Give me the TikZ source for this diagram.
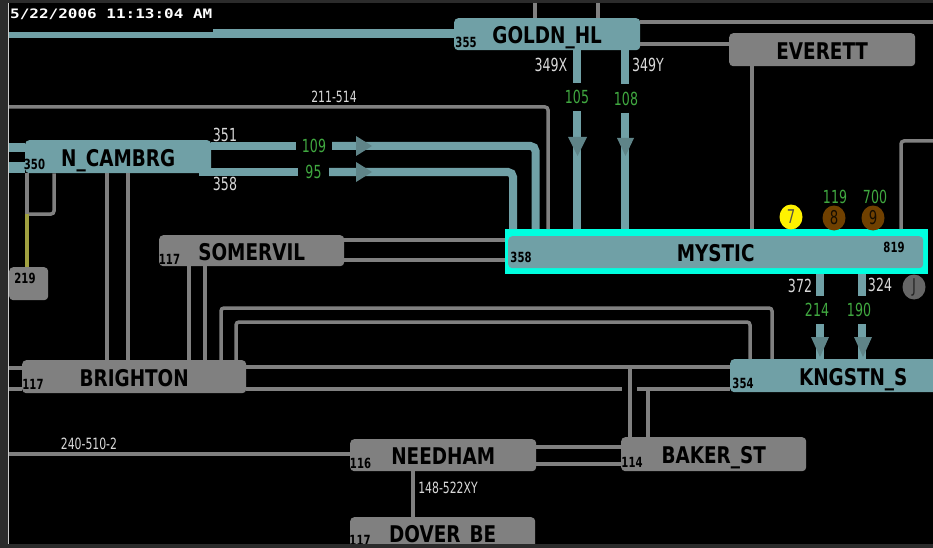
\documentclass[tikz,border=0pt]{standalone}
\usepackage{fontspec}
\newfontfamily\boxfont[FakeStretch=0.8]{DejaVu Sans Bold}
\newfontfamily\numfont[FakeStretch=0.72]{DejaVu Sans Bold}
\newfontfamily\smallfont[FakeStretch=0.7]{DejaVu Sans}
\newfontfamily\stampfont[FakeStretch=1.23]{DejaVu Sans Mono Bold}
\definecolor{tealbus}{HTML}{70A0A6}
\definecolor{graybus}{HTML}{808080}
\definecolor{arrowteal}{HTML}{5F8488}
\definecolor{flowgreen}{HTML}{40A840}
\definecolor{cyanframe}{HTML}{00FFE0}
\definecolor{brownball}{HTML}{704000}
\definecolor{edgedark}{HTML}{2B2B2B}
\definecolor{olivetap}{HTML}{A0A040}
\tikzset{
  bus/.style={rectangle,rounded corners=4pt,anchor=north west,inner sep=0pt,text=black,
    text height=19pt,text depth=0pt,font=\boxfont\fontsize{23}{25}\selectfont},
  tealnode/.style={bus,fill=tealbus},
  graynode/.style={bus,fill=graybus},
  num/.style={inner sep=0pt,text=black,font=\numfont\fontsize{14}{15}\selectfont},
  lab/.style={inner sep=0pt,text=white!85!black,font=\smallfont\fontsize{18}{20}\selectfont},
  tinylab/.style={inner sep=0pt,text=white!85!black,font=\smallfont\fontsize{15.5}{17}\selectfont},
  flow/.style={inner sep=0pt,minimum height=28pt,minimum width=30pt,text=flowgreen,font=\smallfont\fontsize{18}{20}\selectfont},
  ball/.style={ellipse,minimum width=23pt,minimum height=25pt,inner sep=0pt,text=black,font=\smallfont\fontsize{19}{20}\selectfont},
  gline/.style={draw=graybus,line width=3.5pt,rounded corners=3pt},
  tline/.style={draw=tealbus,line width=8pt,rounded corners=5pt},
  head/.style={fill=arrowteal},
}
\usetikzlibrary{shapes.geometric}
\begin{document}
\begin{tikzpicture}[x=1pt,y=-1pt]
\useasboundingbox (0,0) rectangle (933,548);
\clip (0,0) rectangle (933,548);
\fill[black] (0,0) rectangle (933,548);
\foreach \v in {9,22,27,29,33,35,54,107,128,140,141,146,172,189,205,213,214,221,236,240,260,308,322,367,389,368,447,454,464,535,549,513,577,598,625,630,648,640,3,44,750,752,772,820,862,901,933}{
  \coordinate (x\v) at (\v,0);
  \coordinate (y\v) at (0,\v);
}
% bus nodes
\node[tealnode,minimum width=186pt,minimum height=32pt] (goldn) at (454,18) {GOLDN\_HL};
\node[graynode,minimum width=186pt,minimum height=33pt] (everett) at (729,33) {EVERETT};
\node[tealnode,minimum width=186pt,minimum height=33pt] (ncambrg) at (25,140) {N\_CAMBRG};
\node[graynode,minimum width=185pt,minimum height=31pt] (somervil) at (159,235) {SOMERVIL};
\node[rectangle,fill=cyanframe,anchor=north west,inner sep=0pt,minimum width=423pt,minimum height=45pt] (mysticframe) at (505,229) {};
\node[tealnode,minimum width=415pt,minimum height=32pt] (mystic) at (508,236) {MYSTIC};
\node[graynode,minimum width=39pt,minimum height=33pt] (b219) at (9,267) {};
\node[graynode,minimum width=224pt,minimum height=33pt] (brighton) at (22,360) {BRIGHTON};
\node[tealnode,minimum width=246pt,minimum height=33pt] (kngstn) at (730,359) {KNGSTN\_S};
\node[graynode,minimum width=186pt,minimum height=32pt] (needham) at (350,439) {NEEDHAM};
\node[graynode,minimum width=185pt,minimum height=34pt] (baker) at (621,437) {BAKER\_ST};
\node[graynode,minimum width=185pt,minimum height=32pt] (dover) at (350,517) {DOVER\_BE};
\fill[tealbus] (199,170) rectangle (211,176);
% flow labels
\node[flow,minimum width=36pt] (f109) at (314,146) {109};
\node[flow,minimum width=31pt] (f95) at (313.5,172) {95};
\node[flow] (f105) at (577,97) {105};
\node[flow] (f108) at (626,98.5) {108};
\node[flow] (f214) at (817,310) {214};
\node[flow] (f190) at (859,310) {190};
\node[flow,minimum height=0pt] (f119) at (835,197) {119};
\node[flow,minimum height=0pt] (f700) at (875,197) {700};
% teal lines
\draw[tealbus,line width=6.5pt] (x9 |- y35) -- (x213 |- y35);
\draw[tealbus,line width=9pt] (213,33.5) -- (454,33.5);
\draw[tealbus,line width=9pt] (9,147.5) -- (25,147.5);
\draw[tealbus,line width=11pt] (9,167.5) -- (25,167.5);
\draw[tline,line width=8.5pt] (ncambrg.east |- f109) -- (f109.west);
\draw[tline,line width=8.5pt] (ncambrg.east |- f95) -- (f95.west);
\draw[tline] (f109.east) -- (535.5,146) -- (535.5,229);
\draw[tline] (f95.east) -- (513,172) -- (mysticframe.north -| x513);
\draw[tline] (goldn.south -| x577) -- (f105.north);
\draw[tline] (f105.south) -- (mysticframe.north -| x577);
\draw[tline] (goldn.south -| x625) -- (f108.north -| x625);
\draw[tline] (f108.south -| x625) -- (mysticframe.north -| x625);
\draw[tline] (mysticframe.south -| x820) -- (f214.north -| x820);
\draw[tline] (f214.south -| x820) -- (kngstn.north -| x820);
\draw[tline] (mysticframe.south -| x862) -- (f190.north -| x862);
\draw[tline] (f190.south -| x862) -- (kngstn.north -| x862);
% arrowheads
\fill[head] (356,136) -- (372,146) -- (356,156) -- cycle;
\fill[head] (356,162) -- (372,172) -- (356,182) -- cycle;
\fill[head] (568,137) -- (587,137) -- (577.5,156) -- cycle;
\fill[head] (617,138) -- (634,138) -- (625.5,156) -- cycle;
\fill[head] (811,337) -- (829,337) -- (820,357) -- cycle;
\fill[head] (854,337) -- (872,337) -- (863,357) -- cycle;
% gray lines
\draw[gline] (x535 |- y3) -- (goldn.north -| x535);
\draw[gline] (x598 |- y3) -- (goldn.north -| x598);
\draw[gline] (640,22) -- (933,22);
\draw[gline] (goldn.east |- y44) -- (everett.west |- y44);
\draw[gline] (9,107) -- (548,107) -- (548,229);
\draw[gline] (everett.south -| x752) -- (mysticframe.north -| x752);
\draw[gline] (mysticframe.north -| x901) -- (x901 |- y141) -- (x933 |- y141);
\draw[gline] (ncambrg.south -| x107) -- (brighton.north -| x107);
\draw[gline] (ncambrg.south -| x128) -- (brighton.north -| x128);
\draw[gline] (ncambrg.south -| x27) -- (x27 |- y214);
\draw[gline] (ncambrg.south -| x54) -- (x54 |- y214) -- (x27 |- y214);
\draw[draw=olivetap,line width=3.5pt] (x27 |- y214) -- (b219.north -| x27);
\draw[gline] (somervil.east |- y240) -- (mysticframe.west |- y240);
\draw[gline] (somervil.east |- y260) -- (mysticframe.west |- y260);
\draw[gline] (somervil.south -| x189) -- (brighton.north -| x189);
\draw[gline] (somervil.south -| x205) -- (brighton.north -| x205);
\draw[gline] (brighton.north -| x221) -- (x221 |- y308) -- (x772 |- y308) -- (kngstn.north -| x772);
\draw[gline] (brighton.north -| x236) -- (x236 |- y322) -- (x750 |- y322) -- (kngstn.north -| x750);
\draw[gline] (brighton.east |- y367) -- (kngstn.west |- y367);
\draw[gline] (brighton.east |- y389) -- (622,389);
\draw[gline] (637,389) -- (kngstn.west |- y389);
\draw[gline] (x630 |- y367) -- (baker.north -| x630);
\draw[gline] (x648 |- y389) -- (baker.north -| x648);
\draw[gline] (x9 |- y368) -- (brighton.west |- y368);
\draw[gline] (x9 |- y389) -- (brighton.west |- y389);
\draw[gline] (x9 |- y454) -- (needham.west |- y454);
\draw[gline] (needham.east |- y447) -- (baker.west |- y447);
\draw[gline] (needham.east |- y464) -- (baker.west |- y464);
\draw[gline] (413,471) -- (413,517);
% balls
\node[ball,fill=yellow,text=black!75!yellow] (n7) at (791,217) {7};
\node[ball,fill=brownball,text=black!80!brownball] (n8) at (834,218) {8};
\node[ball,fill=brownball,text=black!80!brownball] (n9) at (873,218) {9};
\node[ball,fill=graybus!80!black,text=black!85!white] (nJ) at (914,287) {J};
% numbers in boxes
\node[num] (t355) at (466,42) {355};
\node[num] (t350) at (34.5,164.5) {350};
\node[num] (t117a) at (169.5,259) {117};
\node[num] (t358m) at (521,257) {358};
\node[num] (t819) at (894,247) {819};
\node[num] (t219) at (25,278) {219};
\node[num] (t117b) at (33,384) {117};
\node[num] (t354) at (743,383) {354};
\node[num] (t116) at (360.5,463) {116};
\node[num] (t114) at (632,462) {114};
\node[num] (t117c) at (360,540) {117};
% line labels
\node[lab] (l351) at (225,135) {351};
\node[lab] (l358) at (225,184) {358};
\node[lab] (l349x) at (551,65) {349X};
\node[lab] (l349y) at (648,65) {349Y};
\node[lab] (l372) at (800,286) {372};
\node[lab] (l324) at (880,285) {324};
\node[tinylab] (l211) at (334,97) {211-514};
\node[tinylab] (l240) at (89,443.5) {240-510-2};
\node[tinylab] (l148) at (448,488) {148-522XY};
\node[anchor=west,inner sep=0pt,text=white,font=\stampfont\fontsize{13}{14}\selectfont] (stamp) at (10,14) {5/22/2006 11:13:04 AM};
% window edges
\fill[edgedark] (0,0) rectangle (8,548);
\fill[white!80!black] (8,3) rectangle (9,544);
\fill[edgedark] (0,0) rectangle (933,3);
\fill[edgedark] (0,544) rectangle (933,548);
\end{tikzpicture}
\end{document}
